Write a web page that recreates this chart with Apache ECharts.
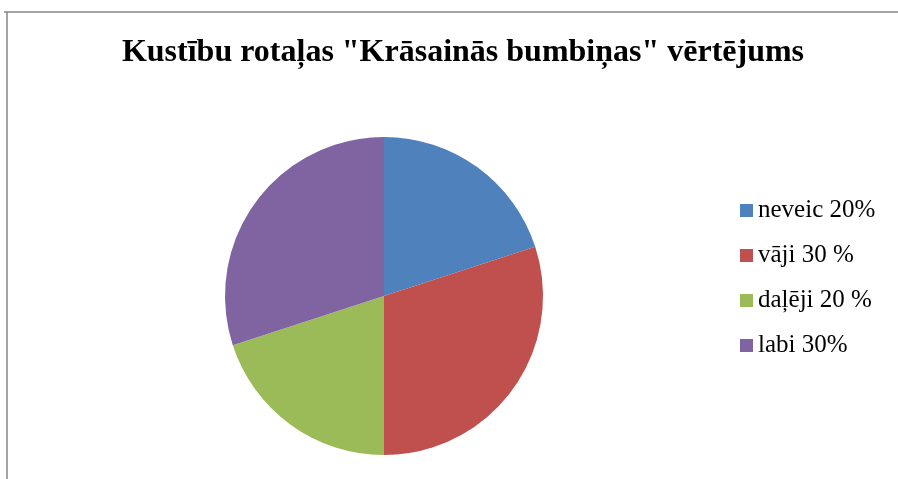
<!DOCTYPE html>
<html>
<head>
<meta charset="utf-8">
<script src="https://cdn.jsdelivr.net/npm/echarts@6/dist/echarts.min.js"></script>
<style>html,body{margin:0;padding:0;background:#fff;}#c{width:898px;height:479px;}</style>
</head>
<body>
<div id="c"></div>
<script>
const titleText = 'Kustību rotaļas "Krāsainās bumbiņas" vērtējums';
const categories = ['neveic 20%', 'vāji 30 %', 'daļēji 20 %', 'labi 30%'];
const values = [20, 30, 20, 30];
const colors = ['#4F81BD', '#C0504D', '#9BBB59', '#8064A2'];

const chart = echarts.init(document.getElementById('c'));
chart.setOption({
  animation: false,
  color: colors,
  title: {
    text: titleText,
    left: 458, top: 32, textAlign: 'center',
    textStyle: { fontFamily: 'Liberation Serif', fontWeight: 'bold', fontSize: 32, color: '#000' }
  },
  legend: {
    orient: 'vertical',
    left: 740, top: 198, padding: 0,
    itemWidth: 13, itemHeight: 13, itemGap: 20,
    icon: 'rect',
    data: categories,
    textStyle: { fontFamily: 'Liberation Serif', fontSize: 25, color: '#000' }
  },
  graphic: [
    { type: 'line', shape: { x1: 4, y1: 12, x2: 898, y2: 12 }, style: { stroke: '#868686', lineWidth: 1.5 } },
    { type: 'line', shape: { x1: 7, y1: 12, x2: 7, y2: 479 }, style: { stroke: '#868686', lineWidth: 1.5 } }
  ],
  series: [{
    type: 'pie',
    center: [384, 296],
    radius: 159,
    startAngle: 90,
    clockwise: true,
    label: { show: false },
    labelLine: { show: false },
    itemStyle: { borderWidth: 0 },
    emphasis: { disabled: true },
    data: categories.map((n, i) => ({ name: n, value: values[i] }))
  }]
});
</script>
</body>
</html>
